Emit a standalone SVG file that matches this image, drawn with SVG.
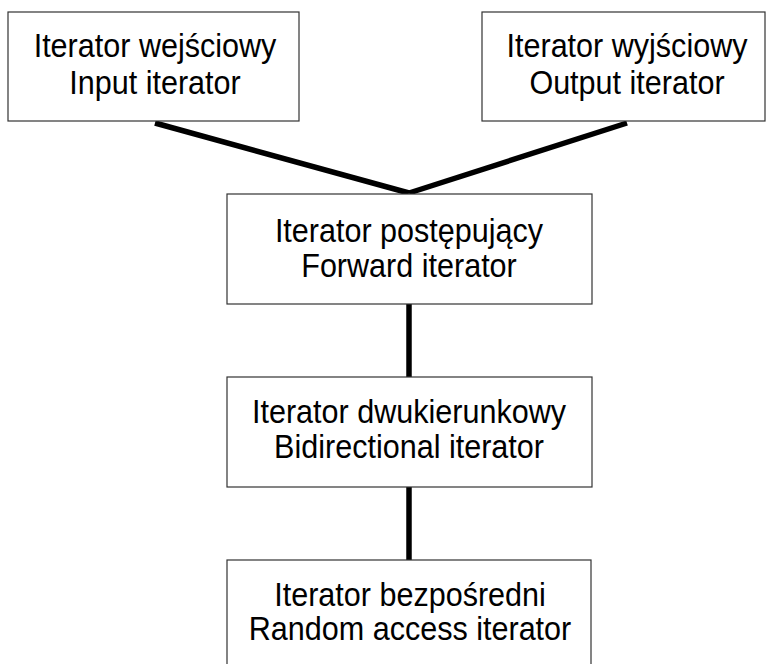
<svg xmlns="http://www.w3.org/2000/svg" width="766" height="664" viewBox="0 0 766 664">
<style>
.box{fill:#fff;stroke:#333;stroke-width:1.2}
.t{font-family:"Liberation Sans",Arial,sans-serif;font-size:32.5px;fill:#000;text-anchor:middle}
.c{stroke:#000;stroke-width:5.5;fill:none;stroke-linecap:butt}
</style>
<rect width="766" height="664" fill="#fff"/>
<g id="connectors">
<line class="c" x1="155" y1="123" x2="409" y2="193"/>
<line class="c" x1="627" y1="123" x2="409" y2="193"/>
<line class="c" x1="409" y1="304" x2="409" y2="377"/>
<line class="c" x1="409" y1="487" x2="409" y2="560"/>
</g>
<g id="input">
<rect class="box" x="8" y="12" width="291" height="109"/>
<text class="t" transform="translate(155,57) scale(0.94,1)">Iterator wejściowy</text>
<text class="t" transform="translate(155,93.5) scale(0.94,1)">Input iterator</text>
</g>
<g id="output">
<rect class="box" x="482" y="12" width="283" height="109"/>
<text class="t" transform="translate(627,57) scale(0.94,1)">Iterator wyjściowy</text>
<text class="t" transform="translate(627,93.5) scale(0.94,1)">Output iterator</text>
</g>
<g id="forward">
<rect class="box" x="227" y="194" width="365" height="110"/>
<text class="t" transform="translate(409,241.5) scale(0.94,1)">Iterator postępujący</text>
<text class="t" transform="translate(409,276.5) scale(0.94,1)">Forward iterator</text>
</g>
<g id="bidirectional">
<rect class="box" x="227" y="377" width="365" height="110"/>
<text class="t" transform="translate(409,423) scale(0.94,1)">Iterator dwukierunkowy</text>
<text class="t" transform="translate(409,458) scale(0.94,1)">Bidirectional iterator</text>
</g>
<g id="random">
<rect class="box" x="227" y="560" width="364" height="115"/>
<text class="t" transform="translate(410,606) scale(0.94,1)">Iterator bezpośredni</text>
<text class="t" transform="translate(410,640) scale(0.94,1)">Random access iterator</text>
</g>
</svg>
